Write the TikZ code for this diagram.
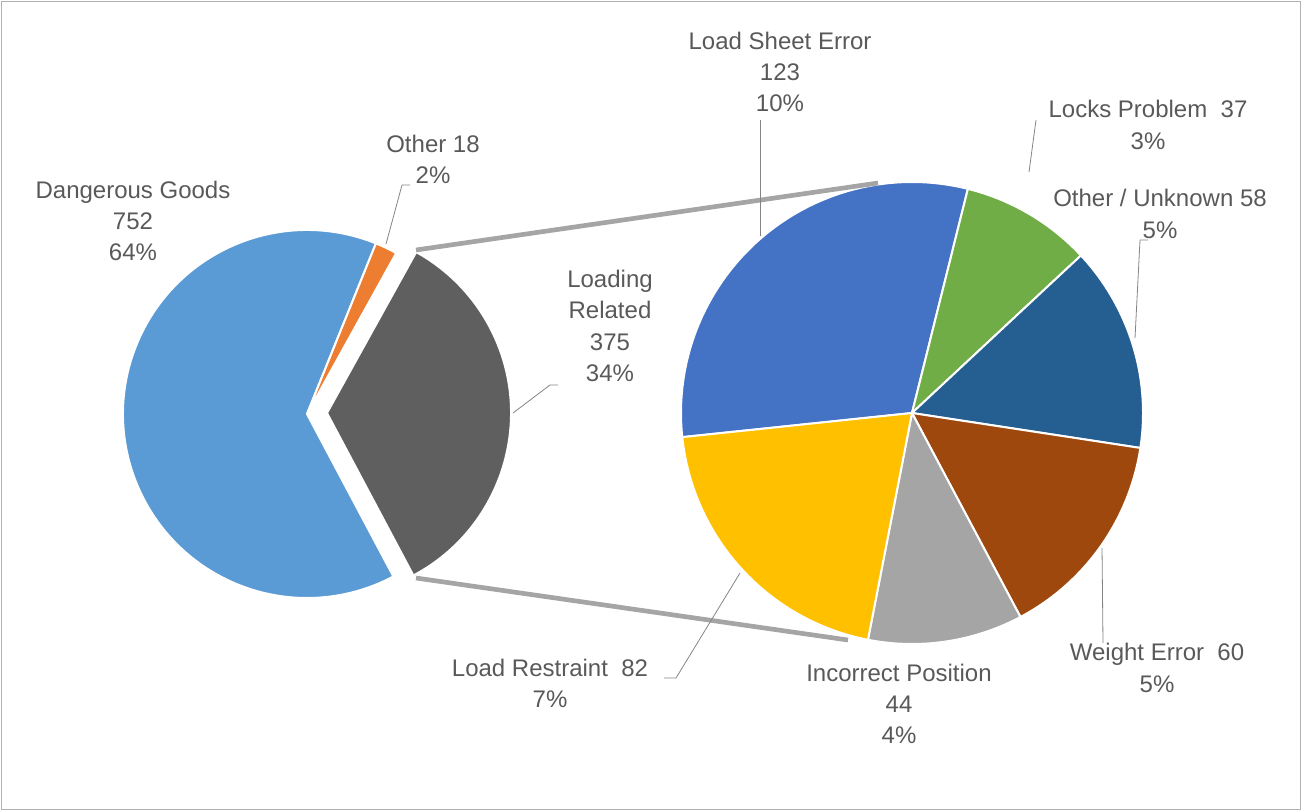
\documentclass[tikz,border=0pt]{standalone}
\usepackage{fontspec}
\setmainfont{Liberation Sans}
\definecolor{txt}{HTML}{595959}
\definecolor{lb}{HTML}{5B9BD5}
\definecolor{or}{HTML}{ED7D31}
\definecolor{dg}{HTML}{5F5F5F}
\definecolor{b2}{HTML}{4472C4}
\definecolor{gr}{HTML}{70AD47}
\definecolor{db}{HTML}{255E91}
\definecolor{br}{HTML}{9E480E}
\definecolor{lg}{HTML}{A5A5A5}
\definecolor{ye}{HTML}{FFC000}
\tikzset{
 slice/.style={draw=white,line width=1.5pt,line join=round},
 lbl/.style={text=txt,align=center,font=\fontsize{18}{23.4}\selectfont,inner sep=0pt},
 lead/.style={draw=lg!80!black,line width=0.6pt},
 conn/.style={draw=lg,line width=3.5pt}
}
\begin{document}
\begin{tikzpicture}[x=0.75pt,y=0.75pt]
\useasboundingbox (0,0) rectangle (1301,-810);
\draw[draw=black!30,line width=0.75pt] (1,-1) rectangle (1300,-809);
% left pie
\coordinate (L) at (307,-414);
\coordinate (G) at (327,-413);
\fill[slice,fill=lb] (L) -- ++(68:184) arc (68:298:184) -- cycle;
\fill[slice,fill=or] (L) -- ++(61:184) arc (61:68:184) -- cycle;
\fill[slice,fill=dg] (G) -- ++(-62:184) arc (-62:61:184) -- cycle;
% right pie
\coordinate (R) at (912,-413);
\def\rr{231}
\fill[slice,fill=b2] (R) -- ++(76:\rr) arc (76:186:\rr) -- cycle;
\fill[slice,fill=gr] (R) -- ++(43:\rr) arc (43:76:\rr) -- cycle;
\fill[slice,fill=db] (R) -- ++(-8.7:\rr) arc (-8.7:43:\rr) -- cycle;
\fill[slice,fill=br] (R) -- ++(-62:\rr) arc (-62:-8.7:\rr) -- cycle;
\fill[slice,fill=lg] (R) -- ++(-101:\rr) arc (-101:-62:\rr) -- cycle;
\fill[slice,fill=ye] (R) -- ++(-174:\rr) arc (-174:-101:\rr) -- cycle;
% connectors
\coordinate (ct) at (416,-250);
\coordinate (cb) at (416,-578);
\coordinate (rt) at (878,-183);
\coordinate (rb) at (848,-640);
\draw[conn] (ct) -- (rt);
\draw[conn] (cb) -- (rb);
% labels
\node[lbl] (lse) at (780,-72) {Load Sheet Error\\123\\10\%};
\node[lbl] (lp) at (1148,-125) {Locks Problem\ \ 37\\3\%};
\node[lbl] (ou) at (1160,-214) {Other / Unknown 58\\5\%};
\node[lbl] (o18) at (433,-159) {Other 18\\2\%};
\node[lbl] (dgl) at (133,-221) {Dangerous Goods\\752\\64\%};
\node[lbl] (lr) at (610,-326) {Loading\\Related\\375\\34\%};
\node[lbl] (we) at (1157,-668) {Weight Error\ \ 60\\5\%};
\node[lbl] (ip) at (899,-704) {Incorrect Position\\44\\4\%};
\node[lbl] (lrs) at (550,-683) {Load Restraint\ \ 82\\7\%};
% leader lines
\draw[lead] (760,-236) -- (760,-120);
\draw[lead] (1029,-172) -- (1036,-120);
\draw[lead] (1135,-338) -- (1140,-240) -- (1148,-240);
\draw[lead] (1102,-548) -- (1103,-643);
\draw[lead] (740,-573) -- (676,-678) -- (664,-678);
\draw[lead] (386,-244) -- (402,-185) -- (410,-185);
\draw[lead] (513,-413) -- (550,-385) -- (558,-385);
\end{tikzpicture}
\end{document}
